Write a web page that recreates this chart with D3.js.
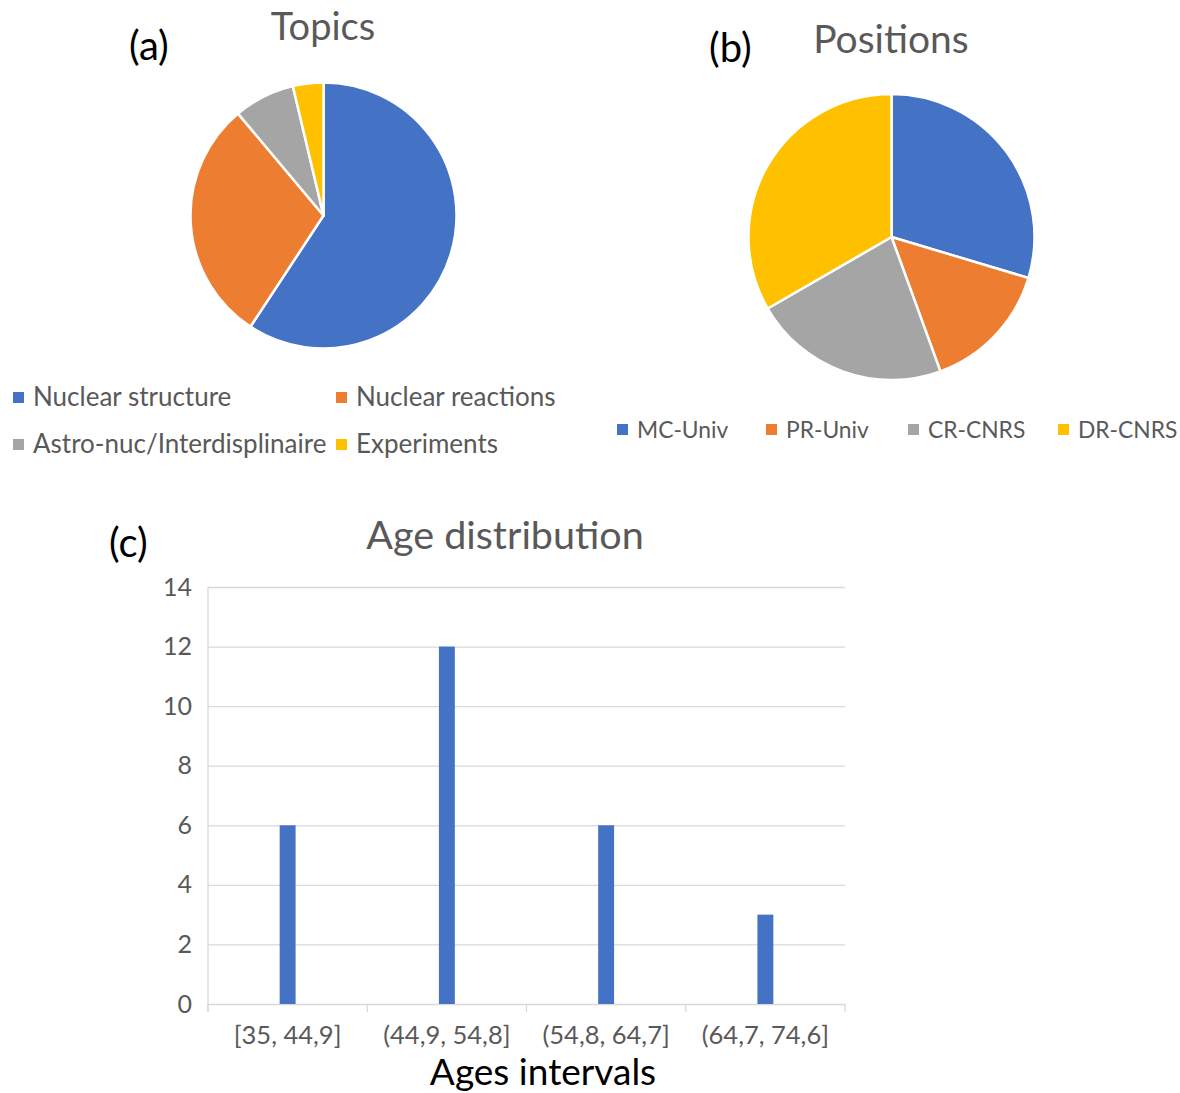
<!DOCTYPE html>
<html>
<head>
<meta charset="utf-8">
<script src="https://cdn.jsdelivr.net/npm/d3@7"></script>
<style>
  html, body { margin: 0; padding: 0; background: #fff; }
  svg { display: block; font-family: Lato, "Open Sans", sans-serif; }
</style>
</head>
<body>
<svg id="chart" width="1180" height="1093"></svg>
<script>
// ---- data ----
const topicLabels = ["Nuclear structure", "Nuclear reactions", "Astro-nuc/Interdisplinaire", "Experiments"];
const topicCounts = [16, 8, 2, 1];

const positionLabels = ["MC-Univ", "PR-Univ", "CR-CNRS", "DR-CNRS"];
const positionCounts = [8, 4, 6, 9];

const ageIntervals = ["[35, 44,9]", "(44,9, 54,8]", "(54,8, 64,7]", "(64,7, 74,6]"];
const ageCounts = [6, 12, 6, 3];
const ageTicks = [0, 2, 4, 6, 8, 10, 12, 14];

const palette = ["#4472C4", "#ED7D31", "#A5A5A5", "#FFC000"];
const textGray = "#595959";

const svg = d3.select("#chart");

// ---- pie helper ----
function drawPie(values, cx, cy, r) {
  const pie = d3.pie().sort(null).value(d => d);
  const arc = d3.arc().innerRadius(0).outerRadius(r);
  const g = svg.append("g").attr("transform", `translate(${cx},${cy})`);
  g.selectAll("path")
    .data(pie(values))
    .join("path")
    .attr("d", arc)
    .attr("fill", (d, i) => palette[i])
    .attr("stroke", "#fff")
    .attr("stroke-width", 2.5)
    .attr("stroke-linejoin", "round");
}

function legendItem(x, y, color, label, size) {
  svg.append("rect").attr("x", x).attr("y", y - 14).attr("width", 11).attr("height", 11).attr("fill", color);
  svg.append("text").attr("x", x + 20).attr("y", y)
    .attr("font-size", size).attr("fill", textGray).text(label);
}

// ---- (a) Topics ----
svg.append("text").attr("x", 129).attr("y", 60).attr("font-size", 40).attr("fill", "#000").text("(a)");
svg.append("text").attr("x", 323).attr("y", 40).attr("text-anchor", "middle")
  .attr("font-size", 38).attr("fill", textGray).text("Topics");
drawPie(topicCounts, 323.5, 215.5, 133);
const topicLegendPos = [[13, 406], [336, 406], [13, 453], [336, 453]];
topicLabels.forEach((l, i) => legendItem(topicLegendPos[i][0], topicLegendPos[i][1], palette[i], l, 26));

// ---- (b) Positions ----
svg.append("text").attr("x", 709).attr("y", 62).attr("font-size", 40).attr("fill", "#000").text("(b)");
svg.append("text").attr("x", 891).attr("y", 53).attr("text-anchor", "middle")
  .attr("font-size", 39).attr("fill", textGray).text("Positions");
drawPie(positionCounts, 891.5, 237, 143);
const posLegendX = [617, 766, 908, 1058];
positionLabels.forEach((l, i) => legendItem(posLegendX[i], 438, palette[i], l, 22.8));

// ---- (c) Age distribution ----
svg.append("text").attr("x", 109).attr("y", 557).attr("font-size", 40).attr("fill", "#000").text("(c)");
svg.append("text").attr("x", 505).attr("y", 549).attr("text-anchor", "middle")
  .attr("font-size", 39.5).attr("fill", textGray).text("Age distribution");

const plot = { left: 208, right: 845, top: 587, bottom: 1004 };
const x = d3.scaleBand().domain(ageIntervals).range([plot.left, plot.right]).padding(0);
const y = d3.scaleLinear().domain([0, 14]).range([plot.bottom, plot.top]);

// horizontal gridlines
svg.append("g")
  .attr("transform", `translate(${plot.left},0)`)
  .call(d3.axisLeft(y).tickValues(ageTicks).tickSize(-(plot.right - plot.left)).tickFormat(""))
  .call(g => g.select(".domain").remove())
  .call(g => g.selectAll(".tick line").attr("stroke", "#d9d9d9").attr("stroke-width", 1.3));

// y tick labels
svg.append("g")
  .attr("transform", `translate(${plot.left},0)`)
  .call(d3.axisLeft(y).tickValues(ageTicks).tickSize(0).tickPadding(16))
  .call(g => g.select(".domain").remove())
  .call(g => g.selectAll("text").attr("font-size", 25).attr("fill", textGray)
    .attr("font-family", "Lato, 'Open Sans', sans-serif"));

// left axis line
svg.append("line")
  .attr("x1", plot.left).attr("x2", plot.left)
  .attr("y1", plot.top).attr("y2", plot.bottom + 8)
  .attr("stroke", "#d9d9d9").attr("stroke-width", 1.3);

// category boundary ticks below the baseline
const boundaries = ageIntervals.map(c => x(c)).concat([plot.right]);
svg.append("g").selectAll("line")
  .data(boundaries)
  .join("line")
  .attr("x1", d => d).attr("x2", d => d)
  .attr("y1", plot.bottom).attr("y2", plot.bottom + 8)
  .attr("stroke", "#d9d9d9").attr("stroke-width", 1.3);

// bars
const barW = x.bandwidth() * 0.1;
svg.append("g").selectAll("rect")
  .data(ageCounts)
  .join("rect")
  .attr("x", (d, i) => x(ageIntervals[i]) + x.bandwidth() / 2 - barW / 2)
  .attr("y", d => y(d))
  .attr("width", barW)
  .attr("height", d => y(0) - y(d))
  .attr("fill", palette[0]);

// x category labels
svg.append("g").selectAll("text")
  .data(ageIntervals)
  .join("text")
  .attr("x", d => x(d) + x.bandwidth() / 2)
  .attr("y", 1044)
  .attr("text-anchor", "middle")
  .attr("font-size", 25.5)
  .attr("fill", textGray)
  .text(d => d);

// x axis title
svg.append("text").attr("x", 543).attr("y", 1085).attr("text-anchor", "middle")
  .attr("font-size", 37).attr("fill", "#000").text("Ages intervals");
</script>
</body>
</html>
